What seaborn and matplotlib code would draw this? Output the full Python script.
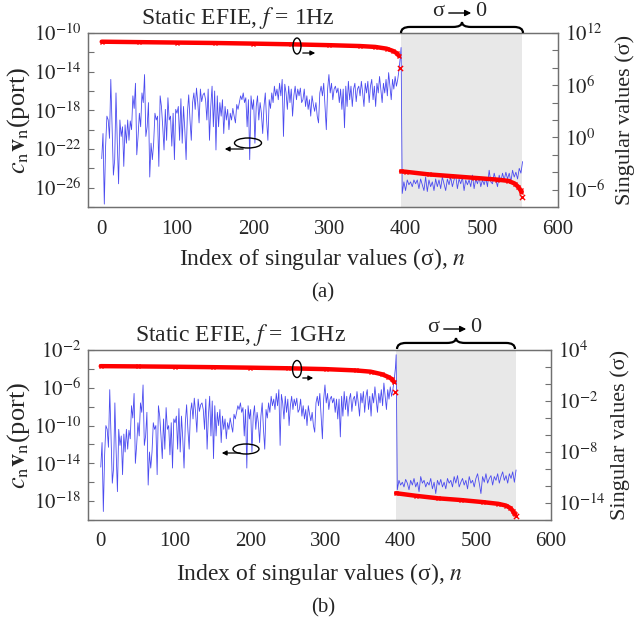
import numpy as np
import pandas as pd
import matplotlib
matplotlib.use("Agg")
import matplotlib.pyplot as plt
import seaborn as sns
from matplotlib.patches import Ellipse, FancyArrowPatch, PathPatch
from matplotlib.path import Path
from matplotlib.ticker import FixedLocator, FixedFormatter, NullLocator

# ---------------- data (log10 values) ----------------
# panel (a): blue = log10 |c_n v_n(port)| (left axis), red = log10 sigma (right axis)
blue_a_main = [
    -23.0, -20.4, -27.7, -21.7, -18.6, -19.0, -20.9, -14.8, -19.7, -24.7, -23.1, -16.2, -21.4,
    -25.6, -19.0, -20.7, -19.7, -23.8, -19.5, -21.4, -19.0, -21.1, -19.1, -20.0, -16.5, -17.8,
    -15.2, -22.6, -20.7, -18.3, -19.7, -16.2, -17.2, -14.3, -20.7, -19.7, -17.2, -24.9, -21.4,
    -23.1, -21.4, -18.3, -19.0, -18.6, -23.8, -16.5, -17.6, -19.7, -22.1, -17.9, -21.1, -16.7,
    -19.0, -18.6, -21.7, -18.3, -23.1, -17.9, -18.3, -17.6, -21.1, -16.8, -21.4, -17.6, -20.0,
    -23.1, -18.3, -16.4, -19.0, -21.1, -17.2, -16.2, -17.9, -15.7, -17.2, -19.3, -15.8, -17.1,
    -16.4,
    -16.2, -16.9, -19.0, -15.8, -21.1, -17.6, -15.5, -19.7, -16.0, -22.1, -16.5, -19.7, -17.2,
    -18.6, -16.9, -20.4, -17.6, -19.0, -17.9, -20.0, -18.3, -19.0, -17.8, -18.6, -19.3, -17.4,
    -17.9, -17.2, -16.5, -16.9, -16.2, -17.2, -16.7, -19.7, -16.9, -23.1, -16.5, -17.9, -16.9,
    -21.4, -17.6, -16.5, -19.0, -17.2, -18.3, -20.4, -17.6, -16.2, -19.0, -21.1, -16.9, -17.8,
    -16.2, -17.2, -15.5, -16.5, -15.8, -16.9, -15.2, -16.5, -14.8, -20.7, -15.3, -16.2, -17.9,
    -15.5, -17.2, -15.8, -18.6, -16.5, -15.5, -16.9, -15.8, -16.5, -15.7, -17.2,
    -16.9, -15.8, -17.6, -16.5, -17.9, -16.9, -18.6, -16.5, -17.4, -18.1, -17.2, -18.6, -19.3,
    -16.2, -15.5, -16.5, -15.2, -17.6, -20.0, -15.8, -14.3, -16.2, -15.2, -16.9, -15.8, -15.5,
    -16.2, -15.7, -17.2, -15.8, -17.9, -15.8, -19.8, -15.5, -17.6, -15.0, -16.9, -15.5, -17.6,
    -15.8, -15.2, -17.1, -15.8, -15.5, -16.5, -15.0, -16.2, -17.6, -15.2, -16.2, -15.0, -17.2,
    -15.5, -14.8, -16.9, -15.5, -17.6, -15.2, -16.2, -14.5, -15.8, -17.2, -15.2, -16.2, -14.8,
    -16.5, -14.1, -15.5, -16.9, -14.8, -15.8, -14.5, -15.5, -14.8, -13.8, -12.5,
]
blue_a_spike = [-11.5]
blue_a_shade = [
    -26.6, -25.4, -26.3, -25.2, -25.7, -25.4, -25.9, -25.2, -25.6, -25.2, -26.1, -25.1, -25.7,
    -26.3, -24.9, -26.4, -25.2, -25.9, -25.4, -26.3, -25.1, -25.9, -25.2, -26.1, -24.9, -25.6,
    -26.3, -25.1, -25.7, -24.9, -25.9, -25.2, -24.7, -26.1, -25.1, -25.6, -24.9, -26.3, -25.2,
    -25.7, -25.2, -25.9, -24.7, -26.1, -25.1, -25.6, -24.9, -25.9, -25.2, -25.7, -25.0, -25.9,
    -24.2, -25.4, -25.6, -24.5, -25.2, -25.9, -24.7, -25.4, -24.5, -25.2, -24.4, -25.1, -24.5,
    -25.4, -24.2, -24.9, -24.4, -25.1, -24.0, -24.5, -23.3,
]
red_a_pre_n = [1, 50, 100, 150, 200, 250, 300, 340, 360, 375, 383, 388, 391]
red_a_pre_v = [11.0, 10.95, 10.9, 10.85, 10.78, 10.7, 10.6, 10.5, 10.4, 10.2, 9.95, 9.7, 9.4]
red_a_iso_n = [393, 553]
red_a_iso_v = [7.95, -6.85]
red_a_post_n = [394, 400, 430, 460, 490, 520, 535, 543, 548, 551, 552]
red_a_post_v = [-3.9, -3.95, -4.25, -4.45, -4.65, -4.85, -5.0, -5.3, -5.7, -6.1, -6.3]

# panel (b): pre-gap blue curve has the same shape as (a), shifted up by ~8.6 decades
blue_b_offset = 8.6
blue_b_spike = [-2.5]
blue_b_shade = [
    -16.8, -15.8, -16.3, -16.0, -16.5, -15.7, -16.1, -16.8, -15.8, -16.3, -15.6, -16.5, -16.0,
    -17.0, -15.4, -16.1, -15.8, -16.5, -16.0, -16.3, -15.6, -16.7, -16.0, -17.2, -15.8, -16.3,
    -15.7, -16.5, -16.0, -16.7, -15.6, -16.1, -15.8, -16.5, -15.4, -16.1, -15.3, -16.5, -16.0,
    -15.6, -16.3, -15.8, -16.7, -15.4, -16.1, -15.8, -16.5, -15.6, -15.1, -16.1, -17.2, -15.4,
    -16.0, -15.1, -16.1, -15.6, -15.3, -16.3, -15.4, -15.8, -15.1, -16.1, -15.4, -14.9, -15.8,
    -15.3, -16.1, -15.1, -15.6, -14.9, -16.0, -14.7,
]
red_b_pre_n = [1, 50, 100, 150, 200, 250, 300, 340, 360, 375, 383, 388, 391]
red_b_pre_v = [2.1, 2.07, 2.03, 1.98, 1.92, 1.85, 1.75, 1.6, 1.45, 1.15, 0.85, 0.6, 0.25]
red_b_iso_n = [393, 553]
red_b_iso_v = [-0.9, -15.5]
red_b_post_n = [394, 420, 450, 480, 510, 530, 540, 546, 549, 551, 552]
red_b_post_v = [-12.85, -13.15, -13.45, -13.65, -13.9, -14.1, -14.3, -14.6, -14.9, -15.2, -15.3]

shade_span = [394, 553]
x_ticks = [0, 100, 200, 300, 400, 500, 600]

# ---------------- style ----------------
sns.set_style("white")
plt.rcParams["font.family"] = ["Liberation Serif", "DejaVu Serif"]
plt.rcParams["mathtext.fontset"] = "stix"
plt.rcParams["xtick.direction"] = "in"
plt.rcParams["ytick.direction"] = "in"

BLUE = "#4b4bf0"
SPINE = "#707070"
W, H = 637, 626

fig = plt.figure(figsize=(W / 100, H / 100), dpi=100)


def fx(px):
    return px / W


def fy(py):
    return 1 - py / H


def log_ticks(ax_, lo, hi, labeled):
    ks = list(range(lo, hi + 1, 2))
    ax_.yaxis.set_major_locator(FixedLocator([10.0 ** k for k in ks]))
    ax_.yaxis.set_major_formatter(
        FixedFormatter([(r"$10^{%d}$" % k) if k in labeled else "" for k in ks]))
    ax_.yaxis.set_minor_locator(NullLocator())


def brace(x0, x1, ybase, h):
    xm = (x0 + x1) / 2
    q = 9
    ym = ybase - h * 0.55
    pts = [(x0, ybase), (x0, ym), (x0 + q, ym), (xm - q, ym), (xm, ym), (xm, ybase - h),
           (xm, ym), (xm + q, ym), (x1 - q, ym), (x1, ym), (x1, ybase)]
    codes = [Path.MOVETO, Path.CURVE3, Path.CURVE3, Path.LINETO, Path.CURVE3, Path.CURVE3,
             Path.CURVE3, Path.CURVE3, Path.LINETO, Path.CURVE3, Path.CURVE3]
    verts = [(fx(a), fy(b)) for a, b in pts]
    fig.add_artist(PathPatch(Path(verts, codes), fill=False, lw=1.6, color="black",
                             transform=fig.transFigure))


def arrow(x0, x1, y, lw=0.9, ms=7):
    fig.add_artist(FancyArrowPatch((fx(x0), fy(y)), (fx(x1), fy(y)), transform=fig.transFigure,
                                   arrowstyle="-|>", mutation_scale=ms, lw=lw, color="black"))


def icon(cx, cy, w, h):
    fig.add_artist(Ellipse((fx(cx), fy(cy)), w / W, h / H, fill=False, lw=1.0,
                           color="black", transform=fig.transFigure))


def panel(rect, xlim0, blue_main, blue_spike, blue_shade, left_lim, left_lab,
          red_pre_n, red_pre_v, red_iso_n, red_iso_v, red_post_n, red_post_v,
          right_lim, right_lab, title, title_xy, cap, cap_xy, lab_x, xlab_y):
    ax = fig.add_axes(rect)
    ax.axvspan(shade_span[0], shade_span[1], color="#e8e8e8", lw=0, zorder=0)
    n_main = np.linspace(1, 393, len(blue_main))
    n_shade = np.linspace(395.5, 553.5, len(blue_shade))
    n_all = np.concatenate([n_main, [shade_span[0]], n_shade])
    v_all = np.concatenate([blue_main, blue_spike, blue_shade])
    dfb = pd.DataFrame({"n": n_all, "v": 10.0 ** v_all})
    sns.lineplot(data=dfb, x="n", y="v", ax=ax, color=BLUE, lw=0.6, estimator=None,
                 sort=False, zorder=2)
    ax.set_yscale("log")
    ax.set_ylim(10.0 ** left_lim[0], 10.0 ** left_lim[1])
    ax.set_xlim(xlim0, 600)
    log_ticks(ax, left_lim[0], left_lim[1], left_lab)
    ax.set_xticks(x_ticks)
    ax.set_xticklabels([str(t) for t in x_ticks])

    ax2 = ax.twinx()
    for nn, vv in ((red_pre_n, red_pre_v), (red_post_n, red_post_v)):
        sns.lineplot(x=nn, y=10.0 ** np.array(vv), ax=ax2, color="red", lw=3.2,
                     marker="x", markersize=3, mec="red", mew=1.0, estimator=None)
    sns.scatterplot(x=red_iso_n, y=10.0 ** np.array(red_iso_v), ax=ax2, color="red",
                    marker="x", s=14, linewidth=1.0)
    ax2.set_yscale("log")
    ax2.set_ylim(10.0 ** right_lim[0], 10.0 ** right_lim[1])
    log_ticks(ax2, right_lim[0], right_lim[1], right_lab)

    for a in (ax, ax2):
        for s in a.spines.values():
            s.set_color(SPINE)
            s.set_linewidth(0.9)
        a.tick_params(axis="both", which="both", labelsize=15, length=4, width=0.8,
                      color=SPINE, pad=5)
    ax.tick_params(axis="x", pad=9)

    ax.set_xlabel(r"Index of singular values (σ), $n$", fontsize=17)
    ax.xaxis.set_label_coords(0.5, xlab_y)
    ax.set_ylabel(r"$c_{\mathrm{n}}\mathbf{v}_{\mathrm{n}}$(port)", fontsize=19)
    ax.yaxis.set_label_coords(lab_x[0], 0.5)
    ax2.set_ylabel("Singular values (σ)", fontsize=16)
    ax2.yaxis.set_label_coords(lab_x[1], 0.5)

    fig.text(fx(title_xy[0]), fy(title_xy[1]), title, fontsize=17, ha="center", va="center")
    fig.text(fx(cap_xy[0]), fy(cap_xy[1]), cap, fontsize=15, ha="center", va="center")
    return ax


# panel (a)
panel([fx(88), fy(207), (558 - 88) / W, 174 / H], -17,
      blue_a_main, blue_a_spike, blue_a_shade, (-28, -10), [-10, -14, -18, -22, -26],
      red_a_pre_n, red_a_pre_v, red_a_iso_n, red_a_iso_v, red_a_post_n, red_a_post_v,
      (-8, 12), [12, 6, 0, -6], r"Static EFIE, $f$ = 1Hz", (238, 18), "(a)", (323, 293),
      (-0.12, 1.121), -0.225)
brace(401, 523, 33, 11)
fig.text(fx(438), fy(12), "σ", fontsize=16, ha="center", va="center")
arrow(446, 474, 13, lw=1.0, ms=9)
fig.text(fx(481), fy(12), "0", fontsize=16, ha="center", va="center")
icon(297, 46, 8, 16)
arrow(300, 318, 53)
icon(248, 143, 27, 10)
arrow(246, 222, 149)

# panel (b)
blue_b_main = [v + blue_b_offset for v in blue_a_main]
panel([fx(88), fy(520), (551 - 88) / W, 170 / H], -16,
      blue_b_main, blue_b_spike, blue_b_shade, (-20, -2), [-2, -6, -10, -14, -18],
      red_b_pre_n, red_b_pre_v, red_b_iso_n, red_b_iso_v, red_b_post_n, red_b_post_v,
      (-16, 4), [4, -2, -8, -14], r"Static EFIE, $f$ = 1GHz", (240, 335), "(b)", (323, 608),
      (-0.122, 1.127), -0.24)
brace(397, 515, 349, 11)
fig.text(fx(433), fy(328), "σ", fontsize=16, ha="center", va="center")
arrow(441, 469, 329, lw=1.0, ms=9)
fig.text(fx(476), fy(328), "0", fontsize=16, ha="center", va="center")
icon(297, 369, 9, 17)
arrow(300, 316, 378)
icon(246, 449, 26, 10)
arrow(243, 219, 453)

fig.savefig("out.png", dpi=100)
